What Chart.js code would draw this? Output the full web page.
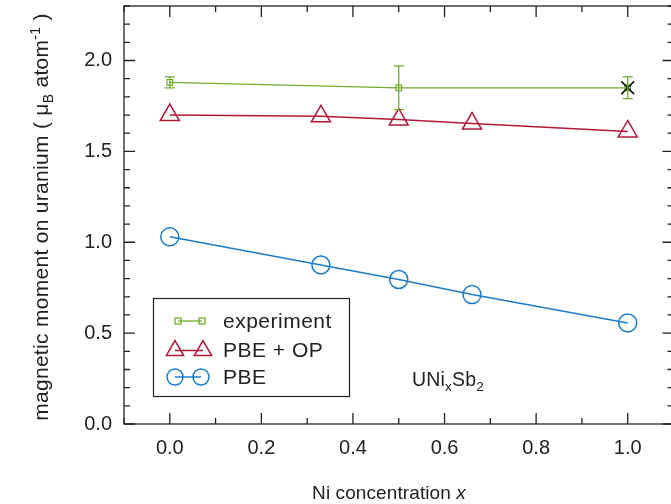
<!DOCTYPE html>
<html><head><meta charset="utf-8">
<script src="https://cdn.jsdelivr.net/npm/chart.js@4"></script>
<style>html,body{margin:0;padding:0;overflow:hidden;background:#fff}#wrap{width:676px;height:504px}</style>
</head><body><div id="wrap"><canvas id="c" width="676" height="504"></canvas></div>
<script>
// ---- data ----
const xExp = [0, 0.5, 1.0];
const yExp = [1.88, 1.85, 1.85];
const errExp = [0.03, 0.12, 0.06];
const xCalc = [0, 0.33, 0.5, 0.66, 1.0];
const yPBEOP = [1.70, 1.693, 1.675, 1.653, 1.61];
const yPBE = [1.03, 0.875, 0.795, 0.712, 0.556];
const xMark = [1.0];
const yMark = [1.85];
const xTicks = [0, 0.2, 0.4, 0.6, 0.8, 1.0];
const yTicks = [0, 0.5, 1.0, 1.5, 2.0];
const seriesNames = ['experiment', 'PBE + OP', 'PBE'];

const FONT = '"Liberation Sans", Arial, Helvetica, sans-serif';
const GREEN = 'rgb(112,172,42)';
const RED = 'rgb(178,24,58)';
const BLUE = 'rgb(26,124,204)';
const INK = '#222';

const pts = (xs, ys) => xs.map((x, i) => ({x: x, y: ys[i]}));

const errorBars = {
  id: 'errorBars',
  afterDatasetsDraw(chart) {
    const {ctx, scales: {x, y}} = chart;
    ctx.save();
    ctx.strokeStyle = GREEN; ctx.lineWidth = 1.3;
    xExp.forEach((xv, i) => {
      const px = x.getPixelForValue(xv);
      const t = y.getPixelForValue(yExp[i] + errExp[i]);
      const b = y.getPixelForValue(yExp[i] - errExp[i]);
      ctx.beginPath();
      ctx.moveTo(px, t); ctx.lineTo(px, b);
      ctx.moveTo(px - 5, t); ctx.lineTo(px + 5, t);
      ctx.moveTo(px - 5, b); ctx.lineTo(px + 5, b);
      ctx.stroke();
    });
    ctx.restore();
  }
};

function spaced(ctx, px) { if ('letterSpacing' in ctx) ctx.letterSpacing = px + 'px'; }

const frame = {
  id: 'frame',
  afterDraw(chart) {
    const {ctx, chartArea: a, scales: {x, y}} = chart;
    ctx.save();
    ctx.strokeStyle = INK; ctx.lineWidth = 1.3;
    ctx.strokeRect(a.left, a.top, a.right - a.left, a.bottom - a.top);
    ctx.beginPath();
    for (let k = -1; k <= 11; k++) {
      const v = k / 10; const px = x.getPixelForValue(v);
      const len = (k % 2 === 0) ? 11 : 6;
      ctx.moveTo(px, a.bottom); ctx.lineTo(px, a.bottom - len);
      ctx.moveTo(px, a.top); ctx.lineTo(px, a.top + len);
    }
    for (let k = 0; k <= 23; k++) {
      const v = k / 10; const py = y.getPixelForValue(v);
      const len = (k % 5 === 0) ? 11 : 6;
      ctx.moveTo(a.left, py); ctx.lineTo(a.left + len, py);
      ctx.moveTo(a.right, py); ctx.lineTo(a.right - len, py);
    }
    ctx.stroke();

    ctx.fillStyle = INK;
    ctx.textBaseline = 'alphabetic';
    // x title
    spaced(ctx, 0.1);
    const f = '19px ' + FONT, fi = 'italic 19px ' + FONT;
    ctx.font = f; const w1 = ctx.measureText('Ni concentration ').width;
    ctx.font = fi; const w2 = ctx.measureText('x').width;
    let sx = 389 - (w1 + w2) / 2;
    ctx.font = f; ctx.fillText('Ni concentration ', sx, 499);
    ctx.font = fi; ctx.fillText('x', sx + w1, 499);

    // y title (rotated)
    spaced(ctx, 0.3);
    const segs = [
      ['magnetic moment on uranium ( μ', 21, 0],
      ['B', 14, 5],
      [' atom', 21, 0],
      ['-1', 14, -8],
      [' )', 21, 0]
    ];
    let tot = 0;
    segs.forEach(s => { ctx.font = s[1] + 'px ' + FONT; s.push(ctx.measureText(s[0]).width); tot += s[3]; });
    ctx.translate(48, 217);
    ctx.rotate(-Math.PI / 2);
    let cx = -tot / 2;
    segs.forEach(s => { ctx.font = s[1] + 'px ' + FONT; ctx.fillText(s[0], cx, s[2]); cx += s[3]; });
    ctx.setTransform(1, 0, 0, 1, 0, 0);

    // compound label
    spaced(ctx, 0.2);
    const parts = [['UNi', 19.5, 0], ['x', 13.5, 5], ['Sb', 19.5, 0], ['2', 13.5, 5]];
    let lx = 412;
    parts.forEach(p => { ctx.font = p[1] + 'px ' + FONT; ctx.fillText(p[0], lx, 386 + p[2]); lx += ctx.measureText(p[0]).width; });

    // legend
    spaced(ctx, 0);
    ctx.lineWidth = 1.2; ctx.strokeStyle = INK;
    ctx.strokeRect(153.5, 298.5, 196, 98);
    const rows = [321, 350.5, 377];
    ctx.strokeStyle = GREEN; ctx.lineWidth = 1.3;
    ctx.beginPath(); ctx.moveTo(178, rows[0]); ctx.lineTo(202, rows[0]); ctx.stroke();
    [178, 202].forEach(px => ctx.strokeRect(px - 3, rows[0] - 3, 6, 6));
    ctx.strokeStyle = RED; ctx.lineWidth = 1.5;
    ctx.beginPath(); ctx.moveTo(175, rows[1]); ctx.lineTo(203, rows[1]); ctx.stroke();
    [175, 203].forEach(px => {
      const r = 10;
      ctx.beginPath();
      ctx.moveTo(px, rows[1] - r);
      ctx.lineTo(px + r * 0.866, rows[1] + r / 2);
      ctx.lineTo(px - r * 0.866, rows[1] + r / 2);
      ctx.closePath(); ctx.stroke();
    });
    ctx.strokeStyle = BLUE;
    ctx.beginPath(); ctx.moveTo(175, rows[2]); ctx.lineTo(201, rows[2]); ctx.stroke();
    [175, 201].forEach(px => { ctx.beginPath(); ctx.arc(px, rows[2], 8, 0, Math.PI * 2); ctx.stroke(); });
    spaced(ctx, 0.5);
    ctx.fillStyle = INK; ctx.font = '21px ' + FONT; ctx.textBaseline = 'middle';
    seriesNames.forEach((n, i) => ctx.fillText(n, 223, rows[i] + 1));
    ctx.restore();
  }
};

new Chart(document.getElementById('c'), {
  type: 'scatter',
  data: {
    datasets: [
      { label: 'marker', data: pts(xMark, yMark), pointStyle: 'crossRot', pointRadius: 9,
        borderColor: '#111', backgroundColor: 'transparent', pointBorderWidth: 1.6, showLine: false },
      { label: seriesNames[0], data: pts(xExp, yExp), showLine: true, borderColor: GREEN, borderWidth: 1.3,
        pointStyle: 'rect', pointRadius: 4, pointBorderWidth: 1.2, backgroundColor: 'transparent' },
      { label: seriesNames[1], data: pts(xCalc, yPBEOP), showLine: true, borderColor: RED, borderWidth: 1.5,
        pointStyle: 'triangle', pointRadius: 11, pointBorderWidth: 1.5, backgroundColor: 'transparent' },
      { label: seriesNames[2], data: pts(xCalc, yPBE), showLine: true, borderColor: BLUE, borderWidth: 1.5,
        pointStyle: 'circle', pointRadius: 9, pointBorderWidth: 1.5, backgroundColor: 'transparent' }
    ]
  },
  options: {
    responsive: false, animation: false, clip: false,
    layout: { autoPadding: false, padding: { left: 0, top: 6, right: 2.5, bottom: 0 } },
    plugins: { legend: { display: false }, tooltip: { enabled: false } },
    scales: {
      x: {
        type: 'linear', min: -0.1, max: 1.1,
        grid: { display: false, drawTicks: false }, border: { display: false },
        afterBuildTicks: s => { s.ticks = xTicks.map(v => ({ value: v })); },
        afterFit: s => { s.height = 80; s.paddingLeft = 0; s.paddingRight = 0; },
        ticks: { font: { family: FONT, size: 20 }, color: INK, padding: 12, maxRotation: 0, autoSkip: false,
          callback: v => Number(v).toFixed(1) }
      },
      y: {
        type: 'linear', min: 0, max: 2.3,
        grid: { display: false, drawTicks: false }, border: { display: false },
        afterBuildTicks: s => { s.ticks = yTicks.map(v => ({ value: v })); },
        afterFit: s => { s.width = 124; s.paddingTop = 0; s.paddingBottom = 0; },
        ticks: { font: { family: FONT, size: 20 }, color: INK, padding: 12, autoSkip: false,
          callback: v => Number(v).toFixed(1) }
      }
    }
  },
  plugins: [errorBars, frame]
});
</script></body></html>
